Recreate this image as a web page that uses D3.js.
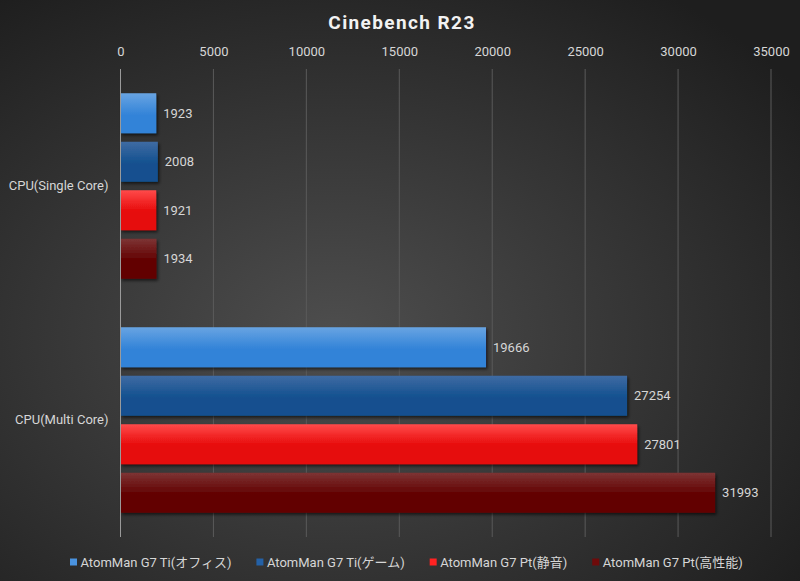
<!DOCTYPE html>
<html>
<head>
<meta charset="utf-8">
<script src="https://cdn.jsdelivr.net/npm/d3@7"></script>
<style>
  html, body { margin: 0; padding: 0; background: #2a2a2a; }
  svg text { font-family: Roboto, "Noto Sans CJK JP", sans-serif; }
</style>
</head>
<body>
<div id="chart"></div>
<script>
// chart values
const categories = ["CPU(Single Core)", "CPU(Multi Core)"];
const seriesNames = ["AtomMan G7 Ti(オフィス)", "AtomMan G7 Ti(ゲーム)", "AtomMan G7 Pt(静音)", "AtomMan G7 Pt(高性能)"];
const singleCore = [1923, 2008, 1921, 1934];
const multiCore = [19666, 27254, 27801, 31993];
const xTicks = [0, 5000, 10000, 15000, 20000, 25000, 30000, 35000];
const title = "Cinebench R23";

const width = 800, height = 581;
const margin = {top: 69, right: 29, bottom: 44, left: 120.5};

// gradient stops per series: top, bottom, plus flat legend colour
const seriesColors = [
    {top: "#68a4e2", bottom: "#3283d8", flat: "#4a93e0"},
    {top: "#3f6ba3", bottom: "#12508f", flat: "#2461a6"},
    {top: "#ff4a4a", bottom: "#e60808", flat: "#ff2222"},
    {top: "#7d3434", bottom: "#620000", flat: "#6e0a0a"}
];

const values = [singleCore, multiCore];
const rows = [];
categories.forEach((c, ci) => {
    seriesNames.forEach((s, si) => {
        rows.push({category: c, series: si, value: values[ci][si]});
    });
});

const svg = d3.select("#chart").append("svg")
    .attr("width", width)
    .attr("height", height);

const defs = svg.append("defs");

const bg = defs.append("radialGradient")
    .attr("id", "bg")
    .attr("cx", "42%").attr("cy", "58%").attr("r", "72%");
bg.append("stop").attr("offset", "0%").attr("stop-color", "#4e4e4e");
bg.append("stop").attr("offset", "100%").attr("stop-color", "#1e1e1e");

seriesColors.forEach((c, i) => {
    const g = defs.append("linearGradient")
        .attr("id", "bar" + i)
        .attr("x1", 0).attr("y1", 0).attr("x2", 0).attr("y2", 1);
    g.append("stop").attr("offset", "0%").attr("stop-color", c.top);
    g.append("stop").attr("offset", "55%").attr("stop-color", c.bottom);
    g.append("stop").attr("offset", "100%").attr("stop-color", c.bottom);
});

const shadow = defs.append("filter")
    .attr("id", "shadow")
    .attr("x", "-10%").attr("y", "-20%").attr("width", "130%").attr("height", "160%");
shadow.append("feDropShadow")
    .attr("dx", 1.5).attr("dy", 2)
    .attr("stdDeviation", 1.5)
    .attr("flood-color", "#000")
    .attr("flood-opacity", 0.6);

svg.append("rect")
    .attr("width", width).attr("height", height)
    .attr("fill", "url(#bg)");

const x = d3.scaleLinear()
    .domain([0, 35000])
    .range([margin.left, 771]);

const y = d3.scaleBand()
    .domain(categories)
    .range([margin.top, height - margin.bottom]);

const ySeries = d3.scaleBand()
    .domain(d3.range(seriesNames.length))
    .range([0, y.bandwidth()])
    .paddingInner(0.175)
    .paddingOuter(0.5);

// title
svg.append("text")
    .attr("x", width / 2 + 2)
    .attr("y", 29)
    .attr("text-anchor", "middle")
    .attr("fill", "#f2f2f2")
    .attr("font-size", 19)
    .attr("font-weight", "bold")
    .attr("letter-spacing", 1.4)
    .text(title);

// gridlines
svg.append("g")
    .selectAll("line")
    .data(xTicks.slice(1))
    .join("line")
    .attr("x1", d => x(d)).attr("x2", d => x(d))
    .attr("y1", margin.top).attr("y2", height - margin.bottom)
    .attr("stroke", "#5a5a5a")
    .attr("stroke-width", 1);

// top axis labels
const xAxis = d3.axisTop(x)
    .tickValues(xTicks)
    .tickFormat(d3.format("d"))
    .tickSize(0)
    .tickPadding(0);

svg.append("g")
    .attr("transform", `translate(0, 56)`)
    .call(xAxis)
    .call(g => g.select(".domain").remove())
    .call(g => g.selectAll("text")
        .attr("fill", "#d6d6d6")
        .attr("font-size", 13)
        .attr("font-family", null));

// bars
svg.append("g")
    .selectAll("rect")
    .data(rows)
    .join("rect")
    .attr("x", x(0))
    .attr("y", d => y(d.category) + ySeries(d.series))
    .attr("width", d => x(d.value) - x(0))
    .attr("height", ySeries.bandwidth())
    .attr("fill", d => `url(#bar${d.series})`)
    .attr("filter", "url(#shadow)");

// value labels
svg.append("g")
    .selectAll("text")
    .data(rows)
    .join("text")
    .attr("x", d => x(d.value) + 7)
    .attr("y", d => y(d.category) + ySeries(d.series) + ySeries.bandwidth() / 2)
    .attr("dy", "0.35em")
    .attr("fill", "#d6d6d6")
    .attr("font-size", 13)
    .text(d => d.value);

// zero axis line
svg.append("line")
    .attr("x1", x(0)).attr("x2", x(0))
    .attr("y1", margin.top).attr("y2", height - margin.bottom)
    .attr("stroke", "#9a9a9a")
    .attr("stroke-width", 1);

// category labels
const yAxis = d3.axisLeft(y).tickSize(0).tickPadding(12);
svg.append("g")
    .attr("transform", `translate(${x(0)}, 0)`)
    .call(yAxis)
    .call(g => g.select(".domain").remove())
    .call(g => g.selectAll("text")
        .attr("fill", "#d6d6d6")
        .attr("font-size", 13)
        .attr("font-family", null));

// legend
const legend = svg.append("g").attr("transform", "translate(0, 562)");
let lx = 70;
seriesNames.forEach((name, i) => {
    const item = legend.append("g").attr("transform", `translate(${lx}, 0)`);
    item.append("rect")
        .attr("x", 0).attr("y", -3.5)
        .attr("width", 7).attr("height", 7)
        .attr("fill", seriesColors[i].flat);
    const t = item.append("text")
        .attr("x", 10.5)
        .attr("dy", "0.35em")
        .attr("fill", "#d6d6d6")
        .attr("font-size", 13)
        .text(name);
    lx += 10.5 + t.node().getComputedTextLength() + 25;
});
</script>
</body>
</html>
